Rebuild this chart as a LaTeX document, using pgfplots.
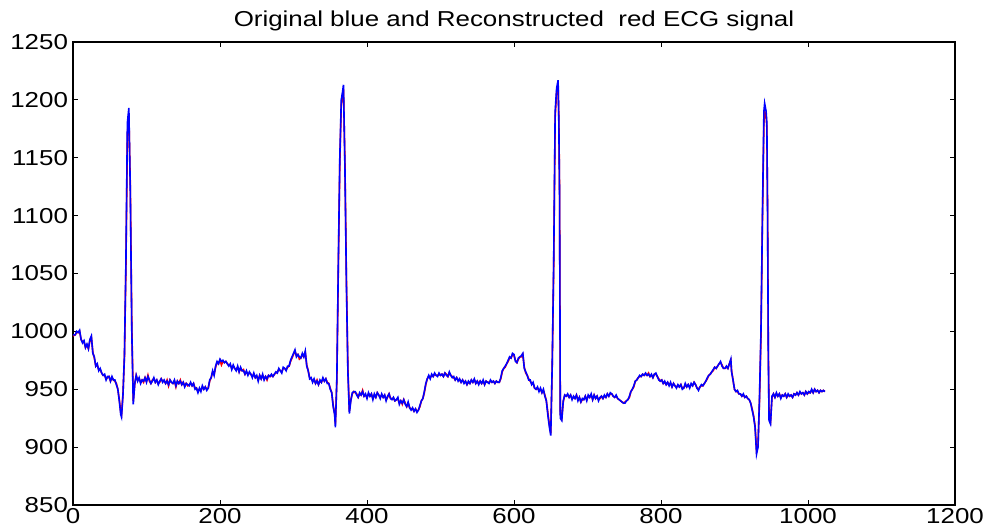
\documentclass[border=0pt]{standalone}
\usepackage{pgfplots}
\usepackage{pgfplotstable}
\pgfplotsset{compat=1.18}
\usepackage{fontspec}
\setmainfont[FakeStretch=1.2]{Liberation Sans}

% x = sample index, o = original (blue), r = reconstructed (red)
\pgfplotstableread{
x o r
0 997 996
3 997 997
5 1000 999
7 999 999
9 1001 1000
11 993 993
13 990 991
15 992 991
17 986 986
19 989 988
21 985 985
23 993 992
25 996 995
27 981 982
29 978 977
31 970 970
33 972 971
35 966 967
37 968 967
39 964 964
41 962 962
43 963 962
45 958 959
47 961 960
49 961 961
51 957 957
53 961 960
55 958 958
57 958 957
59 954 955
61 950 950
63 940 941
65 928 930
66 926 928
68 945 946
70 980 978
72 1060 1055
74 1180 1170
76 1193 1188
78 1120 1125
80 1000 1005
82 937 940
84 955 954
86 962 962
88 957 958
90 960 959
92 955 956
94 958 958
96 957 956
98 960 960
100 956 957
102 961 962
104 958 957
106 955 955
108 957 958
110 960 959
112 956 956
114 958 958
116 954 955
118 957 956
120 959 959
122 956 957
124 958 957
126 955 955
128 957 958
130 954 953
132 958 958
134 956 956
136 955 955
138 958 957
140 953 952
142 957 957
144 955 955
146 957 958
148 954 954
150 956 956
152 952 953
154 955 955
156 954 953
158 953 954
160 956 955
162 953 953
164 955 955
166 950 951
168 951 951
170 947 948
172 951 950
174 948 949
176 953 952
178 950 950
180 952 952
182 949 950
184 951 951
186 958 957
188 960 960
190 966 965
192 962 963
194 970 969
196 974 973
198 972 972
200 976 975
202 974 971
204 975 974
206 973 973
208 974 974
210 972 972
212 970 971
214 972 971
216 967 968
218 971 970
220 968 968
222 966 967
224 970 969
226 965 965
228 969 968
230 966 966
232 966 967
234 963 963
236 966 965
238 962 963
240 965 964
242 963 963
244 960 961
246 964 963
248 960 960
250 962 961
252 957 958
254 962 962
256 959 959
258 963 962
260 958 959
262 961 961
264 959 958
266 962 962
268 961 961
270 963 962
272 961 961
274 963 963
276 965 964
278 964 965
280 968 967
282 966 966
284 964 965
286 969 968
288 968 968
290 966 967
292 970 969
294 970 970
296 975 974
298 978 977
300 981 980
302 984 983
304 978 979
306 980 980
308 978 976
310 977 977
312 981 980
314 978 978
316 983 982
318 970 971
320 966 966
322 959 960
324 960 959
326 956 957
328 959 958
330 955 955
332 957 958
334 954 954
336 958 957
338 956 956
340 960 959
342 957 957
344 959 959
346 955 956
348 955 955
350 950 951
352 947 947
354 935 936
356 928 929
357 917 920
359 960 958
361 1060 1055
363 1150 1145
365 1200 1196
367 1208 1205
368 1213 1209
370 1140 1145
372 1040 1045
374 965 968
376 929 931
378 940 941
380 947 946
382 948 948
384 948 947
386 945 946
388 943 943
390 947 946
392 945 945
394 948 949
396 944 944
398 946 945
400 942 943
402 947 946
404 944 944
406 946 946
408 941 942
410 946 945
412 943 943
414 947 947
416 945 945
418 942 943
420 946 945
422 943 943
424 945 945
426 940 941
428 944 943
430 946 946
432 942 942
434 941 942
436 943 942
438 940 940
440 941 941
442 943 942
444 937 938
446 940 940
448 938 937
450 941 941
452 937 938
454 935 935
456 939 938
458 934 934
460 932 933
462 934 933
464 931 931
466 933 933
468 930 931
470 932 932
472 936 935
474 940 940
476 942 942
478 948 947
480 955 954
482 959 959
484 962 961
486 959 960
488 963 962
490 961 961
492 964 963
494 962 962
496 961 962
498 964 963
500 962 962
502 963 963
504 961 961
506 964 964
508 962 963
510 961 961
512 965 964
514 962 962
516 960 961
518 961 960
520 958 958
522 960 960
524 957 958
526 959 958
528 956 956
530 958 958
532 955 956
534 957 957
536 954 954
538 957 956
540 955 955
542 958 958
544 956 956
546 959 958
548 955 955
550 957 957
552 954 955
554 957 957
556 955 955
558 958 957
560 954 954
562 957 957
564 956 956
566 955 956
568 958 957
570 956 956
572 957 957
574 955 955
576 957 957
578 956 956
580 956 956
582 960 959
584 966 965
586 968 968
588 970 969
590 972 972
592 975 974
594 978 977
596 977 977
598 981 980
600 980 979
602 974 975
604 973 973
606 977 976
608 978 978
610 979 978
612 981 980
614 968 969
616 965 964
618 962 962
620 958 959
622 958 957
624 954 955
626 956 955
628 951 951
630 950 950
632 952 951
634 948 949
636 951 950
638 947 947
640 950 949
642 944 945
644 940 940
646 928 930
648 918 920
650 910 912
652 972 970
654 1060 1055
656 1190 1185
658 1210 1207
660 1217 1212
661 1180 1185
662 1116 1120
663 925 928
665 923 925
667 940 939
669 945 945
671 944 944
673 946 945
675 943 943
677 945 945
679 941 942
681 944 943
683 942 942
685 945 945
687 940 941
689 943 943
691 939 939
693 942 941
695 941 941
697 944 944
699 940 941
701 945 944
703 943 943
705 946 945
707 941 941
709 945 945
711 942 942
713 944 944
715 940 941
717 943 942
719 944 944
721 942 942
723 945 944
725 943 943
727 946 946
729 944 944
731 947 946
733 946 946
735 944 944
737 943 943
739 945 944
741 942 942
743 941 941
745 940 940
747 939 939
749 938 938
751 938 939
753 940 940
755 941 941
757 944 943
759 948 948
761 950 950
763 953 952
765 957 957
767 958 958
769 960 960
771 962 961
773 961 961
775 963 963
777 962 962
779 964 963
781 962 962
783 963 964
785 961 961
787 963 962
789 960 960
791 963 963
793 964 963
795 961 961
797 958 959
799 957 957
801 958 958
803 955 955
805 957 956
807 954 954
809 956 956
811 953 954
813 956 955
815 952 952
817 955 955
819 953 953
821 951 952
823 954 953
825 952 952
827 954 954
829 950 951
831 951 951
833 955 954
835 952 952
837 954 954
839 951 952
841 955 954
843 953 953
845 956 956
847 954 954
849 951 951
851 949 950
853 952 952
855 954 953
857 953 953
859 955 955
861 957 957
863 960 959
865 962 962
867 963 963
869 965 965
871 967 966
873 969 969
875 968 968
877 970 970
879 972 972
881 974 973
883 970 971
885 968 968
887 968 968
889 970 969
891 968 968
893 972 972
895 976 975
896 965 966
898 958 958
900 950 950
902 948 948
904 949 948
906 946 946
908 946 946
910 944 944
912 946 945
914 943 943
916 944 944
918 942 942
920 941 941
922 938 938
924 932 933
926 926 927
928 917 918
930 894 897
932 900 902
934 943 940
936 1000 995
938 1100 1095
940 1190 1180
941 1197 1190
943 1190 1186
944 1180 1176
945 1100 1105
946 980 985
947 923 926
949 920 922
951 944 943
953 946 946
955 943 943
957 947 946
959 944 944
961 946 946
963 942 943
965 945 945
967 944 944
969 946 946
971 943 943
973 946 945
975 944 944
977 945 945
979 943 943
981 946 946
983 945 945
985 947 947
987 945 945
989 948 947
991 946 946
993 947 947
995 945 945
997 948 948
999 946 946
1001 948 947
1003 947 947
1005 950 949
1007 947 947
1009 950 950
1011 948 948
1013 949 949
1015 947 947
1017 949 949
1019 948 948
1021 949 949
1023 948 948
}\ecg

\begin{document}
\begin{tikzpicture}
\begin{axis}[
    scale only axis,
    width=441pt, height=231.5pt,
    xmin=0, xmax=1200,
    ymin=850, ymax=1250,
    xtick={0,200,...,1200},
    ytick={850,900,...,1250},
    xtick pos=both, ytick pos=both,
    tick align=inside,
    major tick length=2.5pt,
    axis line style={line width=0.8pt},
    tick style={black, line width=0.5pt},
    ticklabel style={font=\fontsize{10.8}{11}\selectfont},
    /pgf/number format/assume math mode=true,
    /pgf/number format/set thousands separator={},
    title={Original blue and Reconstructed\ \ red ECG signal},
    title style={font=\fontsize{10.8}{11}\selectfont, yshift=-4pt},
    xticklabel style={yshift=2pt},
    yticklabel style={xshift=1pt},
]
\addplot[red, line width=0.8pt] table[x=x, y=r] {\ecg};
\addplot[blue, line width=0.8pt] table[x=x, y=o] {\ecg};
\coordinate (bl) at (rel axis cs:0,0);
\coordinate (tr) at (rel axis cs:1,1);
\end{axis}
\pgfresetboundingbox
\path ([shift={(-36.5pt,-13.5pt)}]bl) rectangle ([shift={(14.5pt,21pt)}]tr);
\end{tikzpicture}
\end{document}
